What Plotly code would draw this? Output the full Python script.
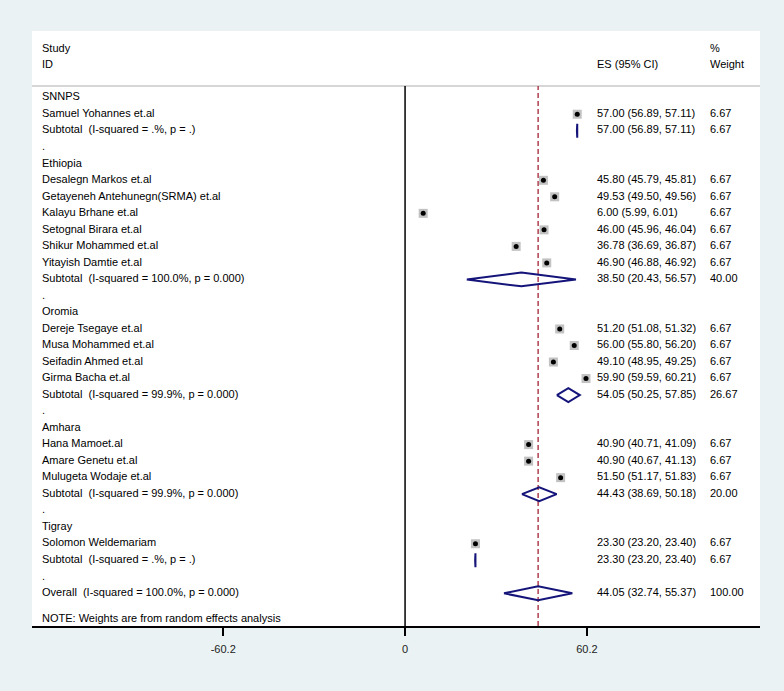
import plotly.graph_objects as go

# ---------------- data ----------------
groups = ["SNNPS", "Ethiopia", "Oromia", "Amhara", "Tigray"]

study_names = [
    ["Samuel Yohannes et.al"],
    ["Desalegn Markos et.al", "Getayeneh Antehunegn(SRMA) et.al", "Kalayu Brhane et.al",
     "Setognal Birara et.al", "Shikur Mohammed et.al", "Yitayish Damtie et.al"],
    ["Dereje Tsegaye et.al", "Musa Mohammed et.al", "Seifadin Ahmed et.al", "Girma Bacha et.al"],
    ["Hana Mamoet.al", "Amare Genetu et.al", "Mulugeta Wodaje et.al"],
    ["Solomon Weldemariam"],
]
study_es = [[57.00], [45.80, 49.53, 6.00, 46.00, 36.78, 46.90], [51.20, 56.00, 49.10, 59.90],
            [40.90, 40.90, 51.50], [23.30]]
study_lo = [[56.89], [45.79, 49.50, 5.99, 45.96, 36.69, 46.88], [51.08, 55.80, 48.95, 59.59],
            [40.71, 40.67, 51.17], [23.20]]
study_hi = [[57.11], [45.81, 49.56, 6.01, 46.04, 36.87, 46.92], [51.32, 56.20, 49.25, 60.21],
            [41.09, 41.13, 51.83], [23.40]]
study_w = [[6.67], [6.67] * 6, [6.67] * 4, [6.67] * 3, [6.67]]

sub_labels = ["Subtotal\u00a0 (I-squared = .%, p = .)",
              "Subtotal\u00a0 (I-squared = 100.0%, p = 0.000)",
              "Subtotal\u00a0 (I-squared = 99.9%, p = 0.000)",
              "Subtotal\u00a0 (I-squared = 99.9%, p = 0.000)",
              "Subtotal\u00a0 (I-squared = .%, p = .)"]
sub_es = [57.00, 38.50, 54.05, 44.43, 23.30]
sub_lo = [56.89, 20.43, 50.25, 38.69, 23.20]
sub_hi = [57.11, 56.57, 57.85, 50.18, 23.40]
sub_w = [6.67, 40.00, 26.67, 20.00, 6.67]

overall_label = "Overall\u00a0 (I-squared = 100.0%, p = 0.000)"
overall_es, overall_lo, overall_hi, overall_w = 44.05, 32.74, 55.37, 100.00

note_text = "NOTE: Weights are from random effects analysis"
tick_vals = [-60.2, 0, 60.2]
tick_text = ["-60.2", "0", "60.2"]

# ---------------- layout geometry ----------------
W, H = 784, 691
ML, MR, MT, MB = 32, 24, 31, 65
X_RANGE = [-123.5, 117.5]
ROW0_PX, ROW_STEP = 97.7, 16.52
Y_TOP = (MT - ROW0_PX) / ROW_STEP
Y_BOT = (H - MB - ROW0_PX) / ROW_STEP
plot_w = W - ML - MR


def px_to_x(px):
    return X_RANGE[0] + (px - ML) / plot_w * (X_RANGE[1] - X_RANGE[0])


def px_to_row(py):
    return (py - ROW0_PX) / ROW_STEP


X_STUDY = px_to_x(42)
X_ES = px_to_x(597)
X_WT = px_to_x(710)

# ---------------- build rows ----------------
lab_y, lab_t = [], []
es_y, es_t, wt_t = [], [], []
pt_x, pt_y, pt_lo, pt_hi = [], [], [], []
dia_x, dia_y = [], []
HH = 0.42  # diamond half height (rows)

r = 0
for g, name in enumerate(groups):
    lab_y.append(r); lab_t.append(name); r += 1
    for i, s in enumerate(study_names[g]):
        e, lo, hi, w = study_es[g][i], study_lo[g][i], study_hi[g][i], study_w[g][i]
        lab_y.append(r); lab_t.append(s)
        es_y.append(r); es_t.append(f"{e:.2f} ({lo:.2f}, {hi:.2f})"); wt_t.append(f"{w:.2f}")
        pt_x.append(e); pt_y.append(r); pt_lo.append(e - lo); pt_hi.append(hi - e)
        r += 1
    lab_y.append(r); lab_t.append(sub_labels[g])
    es_y.append(r); es_t.append(f"{sub_es[g]:.2f} ({sub_lo[g]:.2f}, {sub_hi[g]:.2f})")
    wt_t.append(f"{sub_w[g]:.2f}")
    dia_x += [sub_lo[g], sub_es[g], sub_hi[g], sub_es[g], sub_lo[g], None]
    dia_y += [r, r - HH, r, r + HH, r, None]
    r += 1
    lab_y.append(r); lab_t.append("."); r += 1

lab_y.append(r); lab_t.append(overall_label)
es_y.append(r); es_t.append(f"{overall_es:.2f} ({overall_lo:.2f}, {overall_hi:.2f})")
wt_t.append(f"{overall_w:.2f}")
dia_x += [overall_lo, overall_es, overall_hi, overall_es, overall_lo]
dia_y += [r, r - HH, r, r + HH, r]

FONT = dict(family="Liberation Sans, Arial, sans-serif", size=11, color="#000000")

fig = go.Figure()

# study markers: gray weight boxes + black point with CI
fig.add_trace(go.Scatter(x=pt_x, y=pt_y, mode="markers",
                         marker=dict(symbol="square", size=9, color="#c2c2c2", line=dict(width=0)),
                         hoverinfo="skip", showlegend=False))
fig.add_trace(go.Scatter(x=pt_x, y=pt_y, mode="markers",
                         marker=dict(symbol="circle", size=5, color="#000000"),
                         error_x=dict(type="data", symmetric=False, array=pt_hi, arrayminus=pt_lo,
                                      color="#000000", thickness=1, width=0),
                         hoverinfo="skip", showlegend=False))
# diamonds
fig.add_trace(go.Scatter(x=dia_x, y=dia_y, mode="lines",
                         line=dict(color="#14147a", width=2), hoverinfo="skip", showlegend=False))

# text columns
fig.add_trace(go.Scatter(x=[X_STUDY] * len(lab_y), y=lab_y, text=lab_t, mode="text",
                         textposition="middle right", textfont=FONT, hoverinfo="skip", showlegend=False))
fig.add_trace(go.Scatter(x=[X_ES] * len(es_y), y=es_y, text=es_t, mode="text",
                         textposition="middle right", textfont=FONT, hoverinfo="skip", showlegend=False))
fig.add_trace(go.Scatter(x=[X_WT] * len(es_y), y=es_y, text=wt_t, mode="text",
                         textposition="middle right", textfont=FONT, hoverinfo="skip", showlegend=False))

# headers and note
hdr_y1, hdr_y2 = px_to_row(49), px_to_row(65)
fig.add_trace(go.Scatter(x=[X_STUDY, X_STUDY, X_ES, X_WT, X_WT, X_STUDY],
                         y=[hdr_y1, hdr_y2, hdr_y2, hdr_y1, hdr_y2, px_to_row(619)],
                         text=["Study", "ID", "ES (95% CI)", "%", "Weight", note_text],
                         mode="text", textposition="middle right", textfont=FONT,
                         hoverinfo="skip", showlegend=False))

line_y_paper = (H - MB - 86) / (H - MB - MT)
fig.add_shape(type="line", xref="paper", yref="paper", x0=0, x1=1, y0=line_y_paper, y1=line_y_paper,
              line=dict(color="#c8c8c8", width=1.5), layer="below")
fig.add_shape(type="line", xref="x", yref="paper", x0=0, x1=0, y0=0, y1=line_y_paper,
              line=dict(color="#000000", width=1.5), layer="below")
fig.add_shape(type="line", xref="x", yref="paper", x0=overall_es, x1=overall_es, y0=0, y1=line_y_paper,
              line=dict(color="#b0404f", width=1.5, dash="5px,3px"), layer="below")

fig.update_layout(
    width=W, height=H,
    margin=dict(l=ML, r=MR, t=MT, b=MB, pad=0),
    paper_bgcolor="#eaf2f3", plot_bgcolor="#ffffff",
    showlegend=False,
    xaxis=dict(range=X_RANGE, showgrid=False, zeroline=False, showline=True,
               linecolor="#000000", linewidth=1.5, ticks="outside", ticklen=8, tickwidth=1.5,
               tickcolor="#000000", tickvals=tick_vals, ticktext=tick_text,
               tickfont=dict(family="Liberation Sans, Arial, sans-serif", size=11, color="#222222"),
               ticklabelstandoff=4, fixedrange=True),
    yaxis=dict(range=[Y_BOT, Y_TOP], visible=False, showgrid=False, zeroline=False, fixedrange=True),
)

fig.write_html("out.html", config={"displayModeBar": False, "staticPlot": True},
               post_script="document.body.style.margin='0';document.body.style.background='#eaf2f3';")
